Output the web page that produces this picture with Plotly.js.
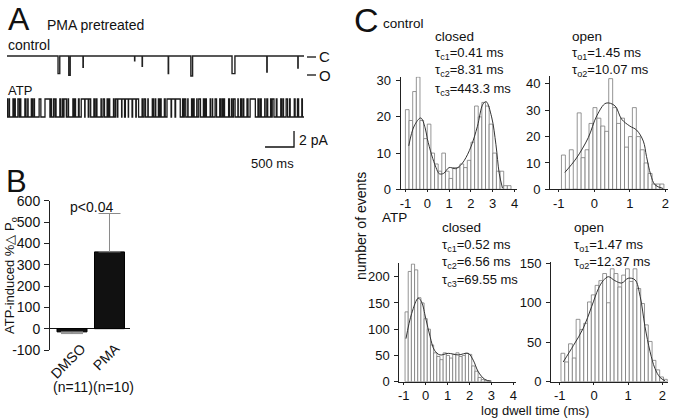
<!DOCTYPE html>
<html><head><meta charset="utf-8">
<script src="https://cdn.plot.ly/plotly-3.0.1.min.js"></script>
<style>html,body{margin:0;padding:0;background:#fff}</style>
</head><body><div id="chart" style="width:676px;height:418px"></div>
<script>
// ================= DATA =================
// Panel A: control recording – brief openings (start ms, duration ms, amplitude pA)
const controlEventStartMs = [880, 1065, 1310, 2200, 2330, 2780, 3170, 3880, 4480, 5015];
const controlEventDurMs   = [30, 25, 5, 4, 5, 6, 30, 50, 6, 5];
const controlEventAmpPA   = [-2.2, -2.4, -1.4, -0.6, -1.3, -2.2, -2.5, -2.2, -2.0, -1.5];
const recordLengthMs = 5121;
const unitaryCurrentPA = -2.25;
// Panel A: ATP recording – alternating dwell times (ms), starting with a closed dwell
const atpDwellsMs = [
  10,25,8,60,15,20,5,45,25,15,10,70,20,30,6,55,18,25,12,80,30,71,
  85,
  20,6,35,25,12,8,65,15,30,5,22,40,28,10,75,20,18,8,50,12,36,
  60,6,55,12,30,
  55,8,25,20,70,5,30,25,45,10,20,15,65,12,25,30,
  8,65,6,45,14,50,5,60,10,55,8,40,
  60,10,25,25,40,6,70,20,28,12,45,18,22,8,55,15,31,
  70,8,60,10,80,
  40,8,22,25,35,5,60,15,20,10,45,6,28,30,50,12,18,22,65,8,30,5,42,25,55,12,25,18,20,8,70,15,35,10,24,28,48,6,40,20,26,10,55,18,36,
  90,
  45,10,25,22,60,6,30,15,50,8,20,30,40,12,65,18,25,5,45,25,35,10,70,15,40,20,55,10,40
];
const scaleBarMs = 500, scaleBarPA = 2;

// Panel B
const groups = ['DMSO', 'PMA'];
const groupN = ['(n=11)', '(n=10)'];
const deltaPoPct = [-15, 360];
const errPlus = [0, 180];
const errMinus = [8, 0];
const pValueText = 'p<0.04';

// Panel C – histograms (bin start, bin width, counts) and fitted curves
const ctrlClosedStart = -0.92, ctrlClosedBin = 0.167;
const ctrlClosedCounts = [22,19,27,31,19,14,18,10,7,5,10,5,3,6,6,7,6,8,13,23,20,24,23,18,10,5,5,1,1];
const ctrlClosedFitX = [-0.85,-0.6,-0.3,-0.1,0,0.2,0.4,0.55,0.75,1.0,1.3,1.5,1.7,2.0,2.3,2.55,2.7,2.95,3.15,3.3,3.45];
const ctrlClosedFitY = [12,17.5,19.7,17,14,9.5,6,4.3,4.4,6,5.7,6.5,8,11.7,17.4,23.5,24.2,20,12.3,4.4,0.3];

const ctrlOpenStart = -0.87, ctrlOpenBin = 0.111;
const ctrlOpenCounts = [13,0,15,0,29,12,15,25,31,27,24,22,42,31,25,27,16,20,31,20,15,10,6,2,2,2];
const ctrlOpenFitX = [-0.83,-0.5,-0.17,0.07,0.33,0.58,0.77,1.0,1.19,1.38,1.47,1.59,1.71,1.94];
const ctrlOpenFitY = [6.4,11.9,19.6,27.9,32.7,31.7,26.6,24,22.5,18.3,12.5,5.5,1.7,0.3];

const atpClosedStart = -0.87, atpClosedBin = 0.145;
const atpClosedCounts = [133,210,224,213,160,150,120,100,70,55,48,42,55,50,45,52,55,48,50,54,52,30,20,8,4,2,1];
const atpClosedFitX = [-0.9,-0.64,-0.34,-0.19,0,0.2,0.4,0.65,1.03,1.49,1.94,2.17,2.4,2.7,3.0];
const atpClosedFitY = [82,130,159,152,121,86,60,51,54,51,54,41,19,4.4,1];

const atpOpenStart = -0.91, atpOpenBin = 0.111;
const atpOpenCounts = [36,25,48,30,79,66,74,101,110,122,128,137,100,143,137,120,135,143,127,143,118,99,72,51,27,15,6,3];
const atpOpenFitX = [-0.9,-0.6,-0.31,-0.07,0.13,0.27,0.42,0.61,0.81,1.0,1.2,1.35,1.49,1.64,1.78,1.93,2.08];
const atpOpenFitY = [25,46,68,95,118,128,133,128,125,131,129,108,70,38,17,5.5,1];

// ================= HELPERS =================
const W = 676, H = 418;
const F = 'Liberation Sans, Arial, Helvetica, sans-serif';
const fx = p => p / W, fy = p => 1 - p / H;
const dX = (a, b) => [a / W, b / W];
const dY = (t, b) => [1 - b / H, 1 - t / H];

function stepFromEvents(starts, durs, amps, total) {
  const x = [0], y = [0];
  starts.forEach((t, i) => { x.push(t, t, t + durs[i], t + durs[i]); y.push(0, amps[i], amps[i], 0); });
  x.push(total); y.push(0);
  return {x, y};
}
function stepFromDwells(dwells, openLevel, total) {
  const x = [], y = []; let t = 0;
  dwells.forEach((d, i) => {
    if (t >= total) return;
    const e = Math.min(t + d, total);
    const l = i % 2 === 0 ? 0 : openLevel; x.push(t, e); y.push(l, l); t = e;
  });
  return {x, y};
}
const centers = (s, w, n) => Array.from({length: n}, (_, i) => s + i * w);

function hist(counts, start, bin, xa, ya) {
  return {type: 'bar', x: centers(start, bin, counts.length), y: counts, width: bin,
    xaxis: xa, yaxis: ya, marker: {color: '#fff', line: {color: '#7a7a7a', width: 0.8}},
    hoverinfo: 'skip'};
}
function fit(x, y, xa, ya) {
  return {type: 'scatter', mode: 'lines', x, y, xaxis: xa, yaxis: ya,
    line: {color: '#333', width: 1, shape: 'spline', smoothing: 1}, hoverinfo: 'skip'};
}

// ================= TRACES =================
const ctrl = stepFromEvents(controlEventStartMs, controlEventDurMs, controlEventAmpPA, recordLengthMs);
const atp = stepFromDwells(atpDwellsMs, unitaryCurrentPA, recordLengthMs);
const sbEnd = 4949, sbBottom = -6;

const data = [
  {type: 'scatter', mode: 'lines', x: ctrl.x, y: ctrl.y, xaxis: 'x', yaxis: 'y', line: {color: '#222', width: 1.4}},
  {type: 'scatter', mode: 'lines', x: atp.x, y: atp.y, xaxis: 'x2', yaxis: 'y2', line: {color: '#1a1a1a', width: 1.3}},
  {type: 'scatter', mode: 'lines', x: [sbEnd - scaleBarMs, sbEnd, sbEnd], y: [sbBottom, sbBottom, sbBottom + scaleBarPA],
    xaxis: 'x2', yaxis: 'y2', line: {color: '#111', width: 1.3}},
  {type: 'bar', x: groups, y: deltaPoPct, xaxis: 'x3', yaxis: 'y3', width: 0.8,
    marker: {color: '#111', line: {color: '#000', width: 1}},
    error_y: {type: 'data', symmetric: false, array: errPlus, arrayminus: errMinus, color: '#8a8a8a', thickness: 1, width: 11}},
  hist(ctrlClosedCounts, ctrlClosedStart, ctrlClosedBin, 'x4', 'y4'),
  fit(ctrlClosedFitX, ctrlClosedFitY, 'x4', 'y4'),
  hist(ctrlOpenCounts, ctrlOpenStart, ctrlOpenBin, 'x5', 'y5'),
  fit(ctrlOpenFitX, ctrlOpenFitY, 'x5', 'y5'),
  hist(atpClosedCounts, atpClosedStart, atpClosedBin, 'x6', 'y6'),
  fit(atpClosedFitX, atpClosedFitY, 'x6', 'y6'),
  hist(atpOpenCounts, atpOpenStart, atpOpenBin, 'x7', 'y7'),
  fit(atpOpenFitX, atpOpenFitY, 'x7', 'y7')
];

// ================= LAYOUT =================
const hidden = {visible: false, showgrid: false, zeroline: false, fixedrange: true};
const ax = {showline: true, linecolor: '#222', linewidth: 1, ticks: 'outside', ticklen: 4, tickcolor: '#222',
  showgrid: false, zeroline: false, tickfont: {family: F, size: 13, color: '#111'}, ticklabelstandoff: 2};
const xax = Object.assign({}, ax, {ticklen: 2, ticklabelstandoff: 0});
const xt4 = {tickvals: [-1,0,1,2,3,4], ticktext: ['-1','0','1','2','3','4']};
const xt2 = {tickvals: [-1,0,1,2], ticktext: ['-1','0','1','2']};

function ann(text, px, py, size, opts) {
  return Object.assign({text, x: fx(px), y: fy(py), xref: 'paper', yref: 'paper', showarrow: false,
    font: {family: F, size, color: '#111'}, xanchor: 'left', yanchor: 'middle'}, opts || {});
}

const layout = {
  width: W, height: H, margin: {l: 0, r: 0, t: 0, b: 0}, showlegend: false,
  paper_bgcolor: '#fff', plot_bgcolor: 'rgba(0,0,0,0)', bargap: 0,
  xaxis: Object.assign({}, hidden, {domain: dX(7, 304), range: [0, recordLengthMs], anchor: 'y'}),
  yaxis: Object.assign({}, hidden, {domain: dY(48, 82), range: [-3.25, 1.0], anchor: 'x'}),
  xaxis2: Object.assign({}, hidden, {domain: dX(7, 304), range: [0, recordLengthMs], anchor: 'y2'}),
  yaxis2: Object.assign({}, hidden, {domain: dY(92, 150), range: [-6.375, 0.875], anchor: 'x2'}),
  xaxis3: {domain: dX(50, 130), range: [-0.587, 1.547], anchor: 'y3', type: 'category', categoryarray: groups,
    showline: false, showticklabels: false, ticks: '', showgrid: false, zeroline: false},
  yaxis3: Object.assign({}, ax, {domain: dY(200.7, 350), range: [-100, 600], anchor: 'x3',
    tickvals: [-100,0,100,200,300,400,500,600], ticktext: ['-100','0','100','200','300','400','500','600'],
    tickfont: {family: F, size: 14, color: '#111'}, ticklen: 5, ticklabelstandoff: 1,
    zeroline: true, zerolinecolor: '#111', zerolinewidth: 1}),
  xaxis4: Object.assign({}, xax, xt4, {domain: dX(400.5, 516.5), range: [-1.229, 4.092], anchor: 'y4'}),
  yaxis4: Object.assign({}, ax, {domain: dY(76.7, 189.3), range: [0, 31.1], anchor: 'x4', tickvals: [0,10,20,30]}),
  xaxis5: Object.assign({}, xax, xt2, {domain: dX(550, 668), range: [-1.248, 2.076], anchor: 'y5'}),
  yaxis5: Object.assign({}, ax, {domain: dY(76, 189.3), range: [0, 43], anchor: 'x5', tickvals: [0,10,20,30,40]}),
  xaxis6: Object.assign({}, xax, xt4, {domain: dX(399.3, 516), range: [-1.205, 4.123], anchor: 'y6'}),
  yaxis6: Object.assign({}, ax, {domain: dY(263.3, 381.7), range: [0, 225.5], anchor: 'x6', tickvals: [0,50,100,150,200]}),
  xaxis7: Object.assign({}, xax, xt2, {domain: dX(551, 668), range: [-1.257, 2.164], anchor: 'y7'}),
  yaxis7: Object.assign({}, ax, {domain: dY(261.7, 381.7), range: [0, 152], anchor: 'x7', tickvals: [0,50,100,150]}),
  shapes: [
    {type: 'line', xref: 'paper', yref: 'paper', x0: fx(307), x1: fx(316), y0: fy(57), y1: fy(57), line: {color: '#111', width: 1.3}},
    {type: 'line', xref: 'paper', yref: 'paper', x0: fx(307), x1: fx(316), y0: fy(75), y1: fy(75), line: {color: '#111', width: 1.3}}
  ],
  annotations: [
    ann('A', 6, 19, 32),
    ann('PMA pretreated', 45, 25, 14),
    ann('control', 6, 45, 14),
    ann('ATP', 6, 90, 13),
    ann('C', 317, 57, 15),
    ann('O', 317, 75, 15),
    ann('2 pA', 297, 140, 14),
    ann('500 ms', 272, 163, 13, {xanchor: 'center'}),
    ann('B', 4, 181, 31),
    ann('ATP-induced %△ P<sub>o</sub>', 10, 276, 13, {xanchor: 'center', textangle: -90}),
    ann(pValueText, 91, 207, 14, {xanchor: 'center'}),
    ann(groups[0], 68, 361, 14, {xanchor: 'center', textangle: -45}),
    ann(groups[1], 106, 357, 14, {xanchor: 'center', textangle: -45}),
    ann(groupN[0], 72.5, 387, 14, {xanchor: 'center'}),
    ann(groupN[1], 113, 387, 14, {xanchor: 'center'}),
    ann('C', 352, 20, 34),
    ann('control', 381, 23, 13.5),
    ann('closed', 433, 36, 13.5),
    ann('τ<sub>c1</sub>=0.41 ms', 433, 53, 13),
    ann('τ<sub>c2</sub>=8.31 ms', 433, 71, 13),
    ann('τ<sub>c3</sub>=443.3 ms', 433, 89, 13),
    ann('open', 570, 36, 13.5),
    ann('τ<sub>o1</sub>=1.45 ms', 570, 53, 13),
    ann('τ<sub>o2</sub>=10.07 ms', 570, 71, 13),
    ann('ATP', 380, 217, 13.5),
    ann('closed', 440, 227, 13.5),
    ann('τ<sub>c1</sub>=0.52 ms', 440, 245, 13),
    ann('τ<sub>c2</sub>=6.56 ms', 440, 262, 13),
    ann('τ<sub>c3</sub>=69.55 ms', 440, 280, 13),
    ann('open', 572, 227, 13.5),
    ann('τ<sub>o1</sub>=1.47 ms', 572, 245, 13),
    ann('τ<sub>o2</sub>=12.37 ms', 572, 262, 13),
    ann('number of events', 361, 226, 14, {xanchor: 'center', textangle: -90}),
    ann('log dwell time (ms)', 535, 410, 13, {xanchor: 'center'})
  ]
};

Plotly.newPlot('chart', data, layout, {staticPlot: true, displayModeBar: false});
</script></body></html>
